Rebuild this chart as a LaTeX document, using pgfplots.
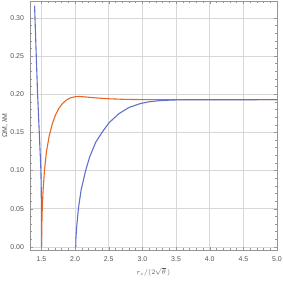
\documentclass[border=0pt]{standalone}
\usepackage{fontspec}
\setmainfont{Liberation Sans}
\usepackage{pgfplots}
\pgfplotsset{compat=1.18}
\definecolor{mblue}{RGB}{98,112,205}
\definecolor{morange}{RGB}{232,102,32}
\definecolor{framegray}{RGB}{150,150,150}
\definecolor{gridgray}{RGB}{215,215,215}
\definecolor{labgray}{RGB}{85,85,85}
\begin{document}
\begin{tikzpicture}[x=1bp,y=1bp]
\useasboundingbox (0,0) rectangle (283,282);
\begin{axis}[
  at={(30bp,32bp)}, anchor=south west,
  scale only axis, width=247bp, height=249bp,
  xmin=1.33, xmax=5.0, ymin=-0.004, ymax=0.322,
  xtick={1.5,2.0,2.5,3.0,3.5,4.0,4.5,5.0},
  ytick={0,0.05,0.10,0.15,0.20,0.25,0.30},
  minor x tick num=4, minor y tick num=4,
  xtick pos=both, ytick pos=both,
  tick align=inside, major tick length=3bp, minor tick length=1.6bp,
  tick style={framegray, line width=0.4pt},
  axis line style={framegray, line width=0.5pt},
  grid=major, major grid style={gridgray, line width=0.6pt},
  /pgf/number format/assume math mode=true,
  tick label style={font=\fontsize{7}{8}\selectfont, text=labgray},
  xticklabel style={anchor=center, yshift=-9bp, /pgf/number format/fixed, /pgf/number format/fixed zerofill, /pgf/number format/precision=1},
  yticklabel style={anchor=east, xshift=-2.5bp, /pgf/number format/fixed, /pgf/number format/fixed zerofill, /pgf/number format/precision=2},
  xlabel={$r_c/(2\sqrt{\theta}\,)$},
  ylabel={ΩM, λM},
  label style={font=\fontsize{7}{8}\selectfont, text=labgray},
  xlabel style={at={(axis description cs:0.5,-0.088)}, anchor=center},
  ylabel style={at={(axis description cs:-0.101,0.5)}, anchor=center},
]
\addplot[mblue, line width=1.1bp] coordinates {
(1.398,0.316) (1.420,0.258) (1.442,0.202) (1.455,0.176) (1.465,0.155) (1.475,0.135) (1.485,0.115) (1.492,0.100) (1.497,0.075) (1.499,0.050) (1.5,0.025) (1.5005,0.0)
};
\addplot[morange, line width=1.1bp] coordinates {
(1.502,0) (1.505,0.025) (1.512,0.05) (1.525,0.075) (1.545,0.100) (1.575,0.125) (1.615,0.145) (1.66,0.161) (1.71,0.173) (1.76,0.1815) (1.81,0.1875) (1.87,0.1922) (1.93,0.1952) (2.0,0.1967) (2.06,0.1970) (2.15,0.1964) (2.3,0.1952) (2.5,0.1940) (2.75,0.1932) (3.0,0.1929) (3.5,0.1928) (5.0,0.1928)
};
\addplot[mblue, line width=1.1bp] coordinates {
(2.010,0) (2.013,0.012) (2.02,0.022) (2.03,0.032) (2.049,0.050) (2.089,0.0744) (2.158,0.1005) (2.217,0.118) (2.306,0.137) (2.404,0.1505) (2.503,0.1625) (2.651,0.1745) (2.799,0.1825) (2.972,0.1878) (3.095,0.1900) (3.25,0.1915) (3.45,0.1924) (3.7,0.1927) (5.0,0.1928)
};
\end{axis}
\end{tikzpicture}
\end{document}
